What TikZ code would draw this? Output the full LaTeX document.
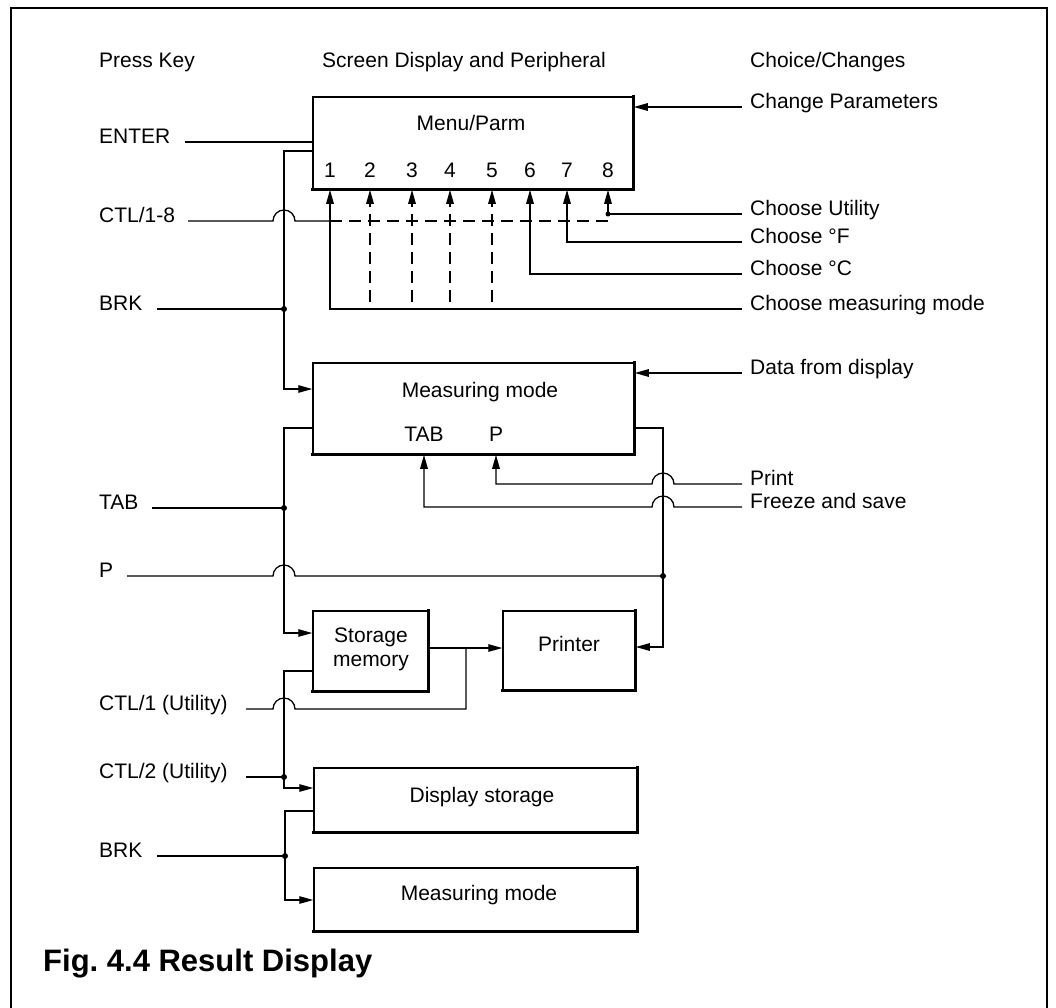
\documentclass[tikz,border=0pt]{standalone}
\usepackage{fontspec}
\setmainfont{Liberation Sans}
\usetikzlibrary{arrows.meta}
\begin{document}
\begin{tikzpicture}[x=1pt,y=-1pt,
  wire/.style={line width=1.3pt, line join=miter},
  arr/.style={wire,-{Triangle[length=14pt,width=7.5pt]}},
  dsh/.style={wire, dash pattern=on 12pt off 7pt},
  dsharr/.style={dsh,-{Triangle[length=14pt,width=7.5pt]}},
  lbl/.style={font=\fontsize{21}{25}\selectfont, inner sep=0pt},
  box/.style={draw, line width=1.5pt, inner sep=0pt},
  dot/.style={circle, fill, inner sep=0pt, minimum size=6pt}
]
\useasboundingbox (0,0) rectangle (1056,1007);
% outer frame
\draw[line width=2pt] (11,1020) -- (11,8) -- (1047,8) -- (1047,1020);

% headers
\node[lbl, anchor=base west] (hKey) at (99,67) {Press Key};
\node[lbl, anchor=base west] (hScr) at (322,67) {Screen Display and Peripheral};
\node[lbl, anchor=base west] (hCho) at (750,67) {Choice/Changes};

% boxes
\node[box, minimum width=320pt, minimum height=92pt] (menu) at (473,143) {};
\node[box, minimum width=321pt, minimum height=91pt] (mm) at (473.5,408.5) {};
\node[box, minimum width=115pt, minimum height=80pt] (stor) at (370.5,651) {};
\node[box, minimum width=132pt, minimum height=79pt] (prn) at (569,650.5) {};
\node[box, minimum width=323pt, minimum height=64pt] (ds) at (475.5,800) {};
\node[box, minimum width=323pt, minimum height=63pt] (mm2) at (475.5,899.5) {};
\foreach \b in {menu,mm,stor,prn,ds,mm2}
  \draw[line width=2.8pt, line cap=rect] (\b.north east) -- (\b.south east) -- (\b.south west);

% box texts
\node[lbl] (tMenu) at (471,123) {Menu/Parm};
\foreach \n/\x in {1/330,2/370,3/412,4/450,5/492,6/530,7/567,8/608}
  \node[lbl, anchor=base] (n\n) at (\x,177) {\n};
\node[lbl] (tMM) at (480,392) {Measuring mode};
\node[lbl, anchor=base] (tTab) at (424,441) {TAB};
\node[lbl, anchor=base] (tP) at (496,441) {P};
\node[lbl, align=center, font=\fontsize{21}{24}\selectfont] (tStor) at (371,649) {Storage\\memory};
\node[lbl] (tPrn) at (569,644) {Printer};
\node[lbl] (tDS) at (482,797) {Display storage};
\node[lbl] (tMM2) at (479,895) {Measuring mode};

% left key labels
\node[lbl, anchor=base west] (lEnter) at (99,143) {ENTER};
\node[lbl, anchor=base west] (lCtl) at (99,222) {CTL/1-8};
\node[lbl, anchor=base west] (lBrk) at (99,310) {BRK};
\node[lbl, anchor=base west] (lTab) at (99,509) {TAB};
\node[lbl, anchor=base west] (lP) at (99,577) {P};
\node[lbl, anchor=base west] (lCtlA) at (99,710) {CTL/1 (Utility)};
\node[lbl, anchor=base west] (lCtlB) at (99,778) {CTL/2 (Utility)};
\node[lbl, anchor=base west] (lBrkB) at (99,857) {BRK};

% right choice labels
\node[lbl, anchor=base west] (rPar) at (750,108) {Change Parameters};
\node[lbl, anchor=base west] (rUtil) at (750,215) {Choose Utility};
\node[lbl, anchor=base west] (rF) at (750,243) {Choose °F};
\node[lbl, anchor=base west] (rC) at (750,275) {Choose °C};
\node[lbl, anchor=base west] (rMeas) at (750,310) {Choose measuring mode};
\node[lbl, anchor=base west] (rData) at (750,374) {Data from display};
\node[lbl, anchor=base west] (rPrint) at (750,485) {Print};
\node[lbl, anchor=base west] (rFreeze) at (750,508) {Freeze and save};

% line end coordinates
\coordinate (kEnter) at (185,142);
\coordinate (kCtl) at (188,221);
\coordinate (kBrk) at (157,309);
\coordinate (kTab) at (152,508);
\coordinate (kP) at (127,576);
\coordinate (kCtlA) at (246,709);
\coordinate (kCtlB) at (246,777);
\coordinate (kBrkB) at (157,856);
\coordinate (cPar) at (742,107);
\coordinate (cUtil) at (742,214);
\coordinate (cF) at (742,242);
\coordinate (cC) at (742,274);
\coordinate (cMeas) at (742,309);
\coordinate (cData) at (742,373);
\coordinate (cPrint) at (742,484);
\coordinate (cFreeze) at (742,507);

% ---- Menu/Parm section
\draw[wire] (kEnter) -- (kEnter -| menu.west);
\draw[arr] (menu.west |- 0,151) -- (284,151) -- (284,389) -- (mm.west |- 0,389);
\draw[wire] (kBrk) -- (284,309);
\node[dot] (jBrk) at (284,309) {};
\draw[wire] (kCtl) -- (273,221) arc[start angle=180, end angle=360, radius=11] -- (330,221);
\draw[arr] (cMeas) -- (330,309) -- (n1 |- menu.south);
\draw[dsh] (330,221) -- (608,221) -- (608,214);
\foreach \n in {2,3,4,5}
  \draw[dsharr] (n\n |- 0,302) -- (n\n |- menu.south);
\draw[arr] (cC) -- (n6 |- cC) -- (n6 |- menu.south);
\draw[arr] (cF) -- (n7 |- cF) -- (n7 |- menu.south);
\draw[arr] (cUtil) -- (n8 |- cUtil) -- (n8 |- menu.south);
\node[dot, minimum size=5pt] (jUtil) at (608,214) {};
\draw[arr] (cPar) -- (cPar -| menu.east);

% ---- Measuring mode section
\draw[arr] (cData) -- (cData -| mm.east);
\draw[arr] (mm.west |- 0,428) -- (284,428) -- (284,633) -- (stor.west |- 0,633);
\draw[wire] (kTab) -- (284,508);
\node[dot] (jTab) at (284,508) {};
\draw[wire] (kP) -- (273,576) arc[start angle=180, end angle=360, radius=11] -- (663,576);
\node[dot] (jP) at (663,576) {};
\draw[arr] (mm.east |- 0,428) -- (663,428) -- (663,647) -- (prn.east |- 0,647);
\draw[arr] (cPrint) -- (674,484) arc[start angle=0, end angle=-180, radius=11] -- (tP |- cPrint) -- (tP |- mm.south);
\draw[arr] (cFreeze) -- (674,507) arc[start angle=0, end angle=-180, radius=11] -- (tTab |- cFreeze) -- (tTab |- mm.south);

% ---- Storage / printer section
\draw[arr] (stor.east |- 0,648) -- (prn.west |- 0,648);
\draw[wire] (kCtlA) -- (273,709) arc[start angle=180, end angle=360, radius=11] -- (466,709) -- (466,648);
\draw[arr] (stor.west |- 0,671) -- (284,671) -- (284,788) -- (ds.west |- 0,788);
\draw[wire] (kCtlB) -- (284,777);
\node[dot] (jCtlB) at (284,777) {};
\draw[arr] (ds.west |- 0,811) -- (285,811) -- (285,900) -- (mm2.west |- 0,900);
\draw[wire] (kBrkB) -- (285,856);
\node[dot] (jBrkB) at (285,856) {};

% caption
\node[font=\fontsize{31}{36}\selectfont\bfseries, inner sep=0pt, anchor=base west] (cap) at (43,971) {Fig.\ 4.4 Result Display};
\end{tikzpicture}
\end{document}
